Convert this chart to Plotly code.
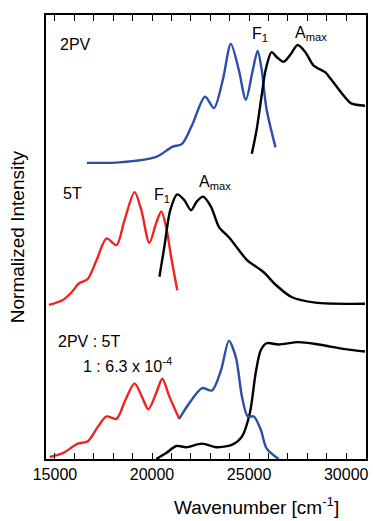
import plotly.graph_objects as go

# ---- data (wavenumber in cm^-1, normalized intensity) ----
pv_em_x = [16640, 18330, 20220, 21040, 21550, 22070, 22730, 23190, 23650, 24060, 24470, 24830, 25190, 25440, 25650, 25900, 26360]
pv_em_y = [0.0, 0.004, 0.05, 0.134, 0.16, 0.32, 0.555, 0.46, 0.70, 1.0, 0.78, 0.53, 0.78, 0.94, 0.78, 0.45, 0.13]

pv_ab_x = [25140, 25390, 25650, 25850, 26160, 26420, 26780, 27130, 27500, 27900, 28310, 28930, 29230, 29750, 30260, 30970]
pv_ab_y = [0.076, 0.28, 0.57, 0.78, 0.93, 0.89, 0.85, 0.91, 0.99, 0.93, 0.82, 0.76, 0.70, 0.59, 0.50, 0.48]

t5_em_x = [14690, 15410, 15870, 16230, 16690, 17150, 17660, 18170, 18580, 19100, 19450, 19860, 20220, 20480, 20730, 20990, 21300]
t5_em_y = [0.0, 0.044, 0.115, 0.19, 0.23, 0.40, 0.59, 0.53, 0.75, 1.0, 0.84, 0.55, 0.73, 0.83, 0.69, 0.42, 0.13]

t5_ab_x = [20380, 20630, 20940, 21300, 21660, 22010, 22320, 22630, 23040, 23450, 23960, 24370, 24880, 25750, 26360, 27190, 28410, 30970]
t5_ab_y = [0.25, 0.51, 0.84, 0.98, 0.93, 0.84, 0.92, 0.96, 0.87, 0.69, 0.60, 0.51, 0.40, 0.29, 0.18, 0.07, 0.02, 0.01]

mix_red_x = [14740, 15410, 16180, 16690, 17200, 17660, 18170, 18630, 19100, 19500, 19810, 20220, 20530, 20890, 21400]
mix_red_y = [0.017, 0.05, 0.13, 0.15, 0.27, 0.36, 0.34, 0.50, 0.64, 0.52, 0.42, 0.56, 0.68, 0.53, 0.34]

mix_blue_x = [21400, 21910, 22580, 23090, 23550, 23960, 24320, 24630, 24930, 25240, 25600, 25900, 26520]
mix_blue_y = [0.34, 0.47, 0.60, 0.58, 0.75, 1.0, 0.86, 0.53, 0.36, 0.36, 0.25, 0.09, 0.0]

mix_ab_x = [20220, 20730, 21250, 21760, 22580, 23290, 24110, 24630, 25040, 25340, 25600, 25900, 26520, 27540, 28570, 29950, 30970]
mix_ab_y = [0.0, 0.05, 0.11, 0.10, 0.13, 0.10, 0.12, 0.19, 0.39, 0.73, 0.92, 0.98, 0.97, 0.99, 0.97, 0.93, 0.91]

# tick marks every 1000 cm^-1, labelled every 5000
x_tickvals = list(range(15000, 31000, 1000))
x_ticktext = [str(v) if v % 5000 == 0 else "" for v in x_tickvals]

BLUE = "#2b4fa6"
RED = "#f2231f"
BLACK = "#000000"
FONT = "Arial, Liberation Sans, sans-serif"

# stacking: (baseline, peak height) of each panel in the shared y frame [0, 1]
STACK = {"mix": (0.0, 0.266), "t5": (0.347, 0.254), "pv": (0.667, 0.268)}

fig = go.Figure()

def add(x, y, color, panel):
    b, h = STACK[panel]
    fig.add_trace(go.Scatter(x=x, y=[b + v * h for v in y], mode="lines",
                             line=dict(color=color, width=2.4, shape="spline", smoothing=0.8),
                             showlegend=False, hoverinfo="skip"))

add(pv_em_x, pv_em_y, BLUE, "pv")
add(pv_ab_x, pv_ab_y, BLACK, "pv")
add(t5_em_x, t5_em_y, RED, "t5")
add(t5_ab_x, t5_ab_y, BLACK, "t5")
add(mix_ab_x, mix_ab_y, BLACK, "mix")
add(mix_red_x, mix_red_y, RED, "mix")
add(mix_blue_x, mix_blue_y, BLUE, "mix")

fig.update_layout(
    width=373, height=521,
    margin=dict(l=46, r=5, t=15, b=62),
    paper_bgcolor="white", plot_bgcolor="white",
    font=dict(family=FONT, size=16, color="black"),
    xaxis=dict(range=[14540, 31020], tickmode="array", tickvals=x_tickvals, ticktext=x_ticktext,
               ticks="inside", ticklen=6, tickwidth=1.3, tickcolor="black",
               mirror="ticks", showline=True, linecolor="black", linewidth=2,
               showgrid=False, zeroline=False, tickfont=dict(size=16)),
    yaxis=dict(range=[0, 1], showticklabels=False, ticks="", showgrid=False, zeroline=False,
               showline=True, mirror=True, linecolor="black", linewidth=2),
)

def txt(xp, yp, s, size=16, angle=0, xanchor="left"):
    W, H, L, T = 322, 444, 46, 15
    fig.add_annotation(x=(xp - L) / W, y=1 - (yp - T) / H, xref="paper", yref="paper", text=s,
                       showarrow=False, xanchor=xanchor, yanchor="middle", textangle=angle,
                       font=dict(size=size, family=FONT))

txt(58, 44, "2PV")
txt(61, 193, "5T")
txt(251, 34, "F<sub>1</sub>")
txt(295, 33, "A<sub>max</sub>")
txt(153, 195, "F<sub>1</sub>")
txt(198, 182, "A<sub>max</sub>")
txt(56, 341, "2PV : 5T")
txt(81, 365, "1 : 6.3 x 10<sup>-4</sup>")
# axis titles
txt(258, 506, "Wavenumber [cm<sup>-1</sup>]", size=19, xanchor="center")
txt(17, 237, "Normalized Intensity", size=19, angle=-90, xanchor="center")

fig.write_html("out.html", config={"displayModeBar": False},
               post_script="document.body.style.margin='0';document.body.style.overflow='hidden';")
